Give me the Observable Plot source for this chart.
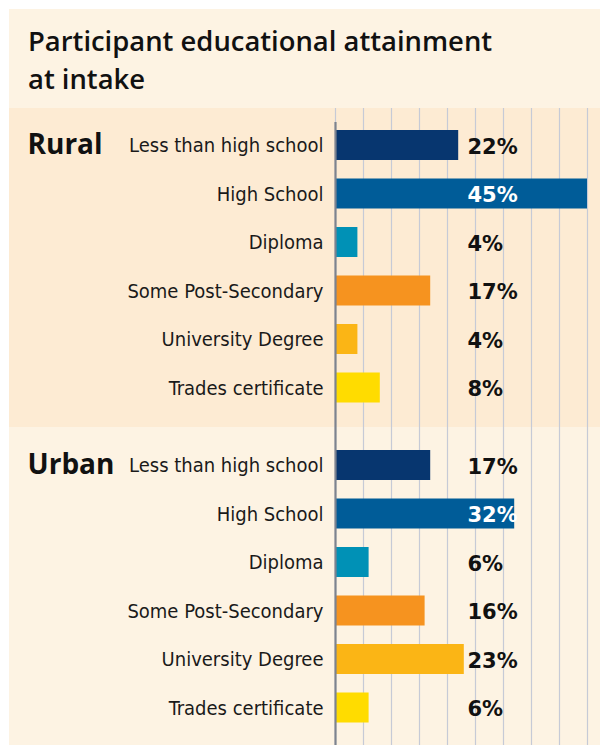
<!DOCTYPE html>
<html>
<head>
<meta charset="utf-8">
<script src="https://cdn.jsdelivr.net/npm/d3@7"></script>
<script src="https://cdn.jsdelivr.net/npm/@observablehq/plot@0.6"></script>
<style>
  html, body { margin: 0; padding: 0; background: #ffffff; }
  #wrap { margin-left: 9px; padding-top: 9px; width: 591px; overflow: hidden; }
  #title {
    background: #fdf3e3; height: 99px; box-sizing: border-box;
    padding: 13px 0 0 19px;
    font-family: "Open Sans", sans-serif; font-weight: 600; font-size: 27.4px;
    line-height: 38px; color: #111111;
  }
</style>
</head>
<body>
<div id="wrap">
  <div id="title">Participant educational attainment<br>at intake</div>
  <div id="chart"></div>
</div>
<script>
// ---- data ----
const groups = ["Rural", "Urban"];
const categories = ["Less than high school", "High School", "Diploma", "Some Post-Secondary", "University Degree", "Trades certificate"];
const ruralValues = [22, 45, 4, 17, 4, 8];
const urbanValues = [17, 32, 6, 16, 23, 6];
const xTicks = [0, 5, 10, 15, 20, 25, 30, 35, 40, 45];
const barColors = ["#07366f", "#005c98", "#0091b6", "#f6931f", "#fbb515", "#ffdc00"];

// ---- layout constants ----
const W = 591, H = 637;
const marginLeft = 326;
const pxPerPct = 5.6;
const rowStep = 48.5;          // px per row
const barHalf = 15 / rowStep;  // half bar height in row units
const groupStep = 320 / rowStep;
const firstRowPx = 37;

const seriesByGroup = [ruralValues, urbanValues];
const rows = [];
groups.forEach((g, gi) => {
  categories.forEach((c, ci) => {
    rows.push({group: g, category: c, value: seriesByGroup[gi][ci], row: gi * groupStep + ci});
  });
});

const yMin = -firstRowPx / rowStep;
const yMax = yMin + H / rowStep;
const baseTop = yMin + 14 / rowStep;

const labelFont = "'Liberation Sans Narrow', 'DejaVu Sans Condensed', sans-serif";
const valueFont = "'DejaVu Sans', Verdana, sans-serif";

const chart = Plot.plot({
  width: W,
  height: H,
  marginLeft,
  marginRight: 0,
  marginTop: 0,
  marginBottom: 0,
  style: {
    background: "linear-gradient(to bottom, #fdebd3 0px, #fdebd3 319px, #fdf3e3 319px, #fdf3e3 100%)",
    overflow: "visible"
  },
  x: {domain: [0, (W - marginLeft) / pxPerPct], axis: null},
  y: {domain: [yMin, yMax], reverse: true, axis: null},
  color: {domain: categories, range: barColors},
  marks: [
    Plot.ruleX(xTicks, {stroke: "#c6cad6", strokeWidth: 1.2}),
    Plot.rect(rows, {
      x1: 0, x2: "value",
      y1: d => d.row - barHalf, y2: d => d.row + barHalf,
      fill: "category"
    }),
    Plot.ruleX([0], {y1: baseTop, y2: yMax, stroke: "#7d838f", strokeWidth: 2.2}),
    Plot.text(rows, {
      x: 0, y: "row", text: "category", dx: -12, dy: 0.5, textAnchor: "end",
      fontFamily: labelFont, fontSize: 20, fill: "#1a1a1a"
    }),
    Plot.text(rows.filter(d => d.category !== "High School"), {
      x: 0, y: "row", text: d => d.value + "%", dx: 132, dy: 1.5, textAnchor: "start",
      fontFamily: valueFont, fontWeight: "bold", fontSize: 21, fill: "#111111"
    }),
    Plot.text(rows.filter(d => d.category === "High School"), {
      x: 0, y: "row", text: d => d.value + "%", dx: 132, dy: 1.5, textAnchor: "start",
      fontFamily: valueFont, fontWeight: "bold", fontSize: 21, fill: "#ffffff"
    }),
    Plot.text(groups, {
      x: 0, y: (d, i) => i * groupStep, text: d => d, dx: -308, textAnchor: "start",
      fontFamily: "'Open Sans', sans-serif", fontWeight: 700, fontSize: 28, fill: "#111111"
    })
  ]
});
document.getElementById("chart").appendChild(chart);
</script>
</body>
</html>
